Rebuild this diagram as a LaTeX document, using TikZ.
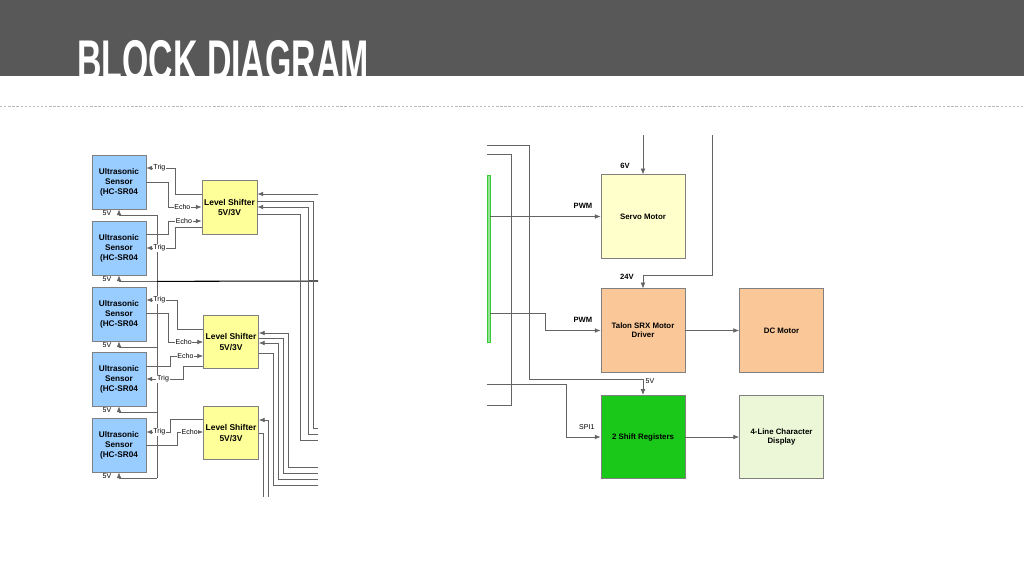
\documentclass[tikz,border=0pt]{standalone}
\usepackage{fontspec}
\setmainfont{Liberation Sans}
\usepackage{graphicx}
\usetikzlibrary{arrows.meta,calc,positioning}

\definecolor{band}{RGB}{88,88,88}
\definecolor{wirecol}{RGB}{100,100,100}
\definecolor{edge}{RGB}{128,128,128}
\definecolor{sensorblue}{RGB}{153,204,255}
\definecolor{shifteryellow}{RGB}{255,255,153}
\definecolor{servoyellow}{RGB}{255,255,204}
\definecolor{peach}{RGB}{250,199,152}
\definecolor{srgreen}{RGB}{25,200,25}
\definecolor{lcdgreen}{RGB}{235,247,214}
\definecolor{mcugreen}{RGB}{150,225,150}

\begin{document}
\begin{tikzpicture}[x=0.03cm,y=-0.03cm,>={Latex[length=5pt,width=4pt]},
    every node/.style={font=\fontsize{6.7}{8}\selectfont\bfseries,align=center,inner sep=0pt},
    elem/.style={draw=edge,line width=0.6pt},
    sensor/.style={elem,fill=sensorblue,minimum width=1.62cm,minimum height=1.62cm,font=\fontsize{7}{8.6}\selectfont\bfseries},
    shifter/.style={elem,fill=shifteryellow,minimum width=1.65cm,minimum height=1.6cm,font=\fontsize{7.2}{8.6}\selectfont\bfseries},
    block/.style={elem,minimum width=2.52cm,minimum height=2.5cm},
    wire/.style={draw=wirecol,line width=0.6pt},
    sig/.style={font=\fontsize{6}{6}\selectfont,fill=white,inner sep=0.6pt},
    volt/.style={font=\fontsize{6}{6}\selectfont},
    voltb/.style={font=\fontsize{6.5}{6.5}\selectfont\bfseries}]

    \useasboundingbox (0,0) rectangle (1024,576);
    \fill[band] (0,0) rectangle (1024,76);
    \node[anchor=base west,text=white,font=\fontsize{49}{49}\selectfont\bfseries] (TITLE) at (77,80) {\scalebox{0.59}[1]{BLOCK DIAGRAM}};
    \draw[gray!55,line width=0.5pt,dash pattern=on 2pt off 1.5pt] (0,106) -- (1024,106);

    % sensors and level shifters
    \foreach \i/\y in {1/182,2/248,3/314,4/379,5/445}
      \node[sensor] (SENSOR\i) at (119,\y) {Ultrasonic\\Sensor\\(HC-SR04};
    \node[shifter] (LS1) at (229.5,207.5) {Level Shifter\\5V/3V};
    \node[shifter] (LS2) at (231,342) {Level Shifter\\5V/3V};
    \node[shifter] (LS3) at (231,433) {Level Shifter\\5V/3V};

    \foreach \n/\x/\y in {A/318/194,B/318/428,C/318/434,D/318/440,E/318/467,F/318/473,G/318/479,H/318/485,I/268/497,J/263/497,P/318/281}
      \coordinate (CUT\n) at (\x,\y);

    \foreach \i in {1,...,5} {
      \draw[wire,->] ($(SENSOR\i.south)+(38,6)$) -| (SENSOR\i.south);
      \node[volt] (V5S\i) at ($(SENSOR\i.south)+(-12,4)$) {5V};
    }
    \draw[wire] ($(SENSOR1.south)+(38,6)$) -- ($(SENSOR5.south)+(38,6)$);
    \draw[black,line width=0.9pt] ($(SENSOR2.south)+(38,6)$) -- (CUTP);

    \draw[wire,<-] ($(SENSOR1.east)+(0,-14)$) -- node[sig,pos=0.45]{Trig} ++(29,0) |- ($(LS1.west)+(0,-13.5)$);
    \draw[wire,->] (SENSOR1.east) -- ++(22,0) |- node[sig,pos=0.71]{Echo} ($(LS1.west)+(0,-0.5)$);
    \draw[wire,->] ($(SENSOR2.east)+(0,-14)$) -- ++(22,0) |- node[sig,pos=0.735]{Echo} ($(LS1.west)+(0,13.5)$);
    \draw[wire,<-] (SENSOR2.east) -- node[sig,pos=0.45]{Trig} ++(29,0) |- ($(LS1.west)+(0,19.5)$);

    \draw[wire,<-] ($(SENSOR3.east)+(0,-14)$) -- node[sig,pos=0.42]{Trig} ++(31,0) |- ($(LS2.west)+(0,-13)$);
    \draw[wire,->] ($(SENSOR3.east)+(0,-1)$) -- ++(22,0) |- node[sig,pos=0.72]{Echo} (LS2.west);
    \draw[wire,->] ($(SENSOR4.east)+(0,-13)$) -- ++(24,0) |- node[sig,pos=0.73]{Echo} ($(LS2.west)+(0,14)$);
    \draw[wire,<-] (SENSOR4.east) -- node[sig,pos=0.45]{Trig} ++(37,0) |- ($(LS2.west)+(0,24)$);

    \draw[wire,<-] ($(SENSOR5.east)+(0,-13)$) -- node[sig,pos=0.54]{Trig} ++(24,0) |- ($(LS3.west)+(0,-14)$);
    \draw[wire,->] (SENSOR5.east) -- ++(31,0) |- node[sig,pos=0.74]{Echo} ($(LS3.west)+(0,-1)$);

    \draw[wire,<-] ($(LS1.east)+(0,-13.5)$) -- (CUTA);
    \draw[wire] ($(LS1.east)+(0,-6.5)$) -| ($(CUTB)+(-5,0)$) -- (CUTB);
    \draw[wire,<-] ($(LS1.east)+(0,-0.5)$) -| ($(CUTC)+(-10,0)$) -- (CUTC);
    \draw[wire] ($(LS1.east)+(0,6.5)$) -| ($(CUTD)+(-18,0)$) -- (CUTD);
    \draw[wire,<-] ($(LS2.east)+(0,-9)$) -| ($(CUTE)+(-30,0)$) -- (CUTE);
    \draw[wire] ($(LS2.east)+(0,-4)$) -| ($(CUTF)+(-35,0)$) -- (CUTF);
    \draw[wire,<-] ($(LS2.east)+(0,1)$) -| ($(CUTG)+(-40,0)$) -- (CUTG);
    \draw[wire] ($(LS2.east)+(0,11)$) -| ($(CUTH)+(-45,0)$) -- (CUTH);
    \draw[wire,<-] ($(LS3.east)+(0,-13)$) -| (CUTI);
    \draw[wire] (LS3.east) -| (CUTJ);

    % motors and display
    \node[fill=mcugreen,draw=green!60!gray,line width=0.4pt,minimum width=0.09cm,minimum height=5.01cm] (MCU) at (488.5,258.5) {};
    \node[block,fill=servoyellow] (SERVO) at (643,216.5) {Servo Motor};
    \node[block,fill=peach] (TALON) at (643,330.5) {Talon SRX Motor\\Driver};
    \node[block,fill=peach] (DCMOTOR) at (781.5,330.5) {DC Motor};
    \node[block,fill=srgreen] (SHIFT) at (643,437) {2 Shift Registers};
    \node[block,fill=lcdgreen] (DISPLAY) at (781.5,437) {4-Line Character\\Display};

    \foreach \n/\x/\y in {K/643/135,L/712/135,M/487/145,N/487/154,O/487/405,Q/487/384}
      \coordinate (CUT\n) at (\x,\y);

    \draw[wire,->] (MCU.east |- SERVO.west) -- node[voltb,pos=0.84,above=0.24cm]{PWM} (SERVO.west);
    \draw[wire,->] ($(MCU.east)+(0,54.5)$) -- ++(55,0) |- node[voltb,pos=0.84,above=0.24cm]{PWM} (TALON.west);
    \draw[wire,->] (CUTK) -- (SERVO.north);
    \node[voltb] (V6) at ($(SERVO.north)+(-18,-9)$) {6V};
    \draw[wire,->] (CUTL) -- ++(0,140) -| (TALON.north);
    \node[voltb] (V24) at ($(TALON.north)+(-16,-12)$) {24V};
    \draw[wire,->] (TALON) -- (DCMOTOR);
    \draw[wire,->] (CUTM) -- ++(42,0) -- ++(0,234) -| (SHIFT.north);
    \node[volt] (V5R) at ($(SHIFT.north)+(7,-14)$) {5V};
    \draw[wire] (CUTN) -- ++(24,0) |- (CUTO);
    \draw[wire,->] (CUTQ) -- ++(79,0) |- node[volt,pos=0.8,above=0.2cm]{SPI1} (SHIFT.west);
    \draw[wire,->] (SHIFT) -- (DISPLAY);
\end{tikzpicture}
\end{document}
